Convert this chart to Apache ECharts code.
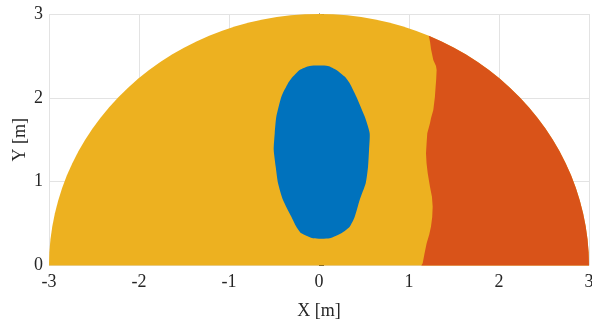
<!DOCTYPE html>
<html>
<head>
<meta charset="utf-8">
<script src="https://cdn.jsdelivr.net/npm/echarts@6/dist/echarts.min.js"></script>
<style>
  html, body { margin: 0; padding: 0; background: #fff; }
  #chart { width: 592px; height: 320px; }
</style>
</head>
<body>
<div id="chart"></div>
<script>
  // tick values
  var xTicks = [-3, -2, -1, 0, 1, 2, 3];
  var yTicks = [0, 1, 2, 3];

  // outer rim (semicircle r = 3), right to left
  var rimPoints = [
    [3, 0], [2.9959, 0.1570], [2.9836, 0.3136], [2.9631, 0.4693], [2.9344, 0.6237],
    [2.8978, 0.7765], [2.8532, 0.9271], [2.8007, 1.0751], [2.7406, 1.2202], [2.6730, 1.3620],
    [2.5981, 1.5], [2.5160, 1.6339], [2.4271, 1.7634], [2.3314, 1.8880], [2.2294, 2.0074],
    [2.1213, 2.1213], [2.0074, 2.2294], [1.8880, 2.3314], [1.7634, 2.4271], [1.6339, 2.5160],
    [1.5, 2.5981], [1.3620, 2.6730], [1.2202, 2.7406], [1.0751, 2.8007], [0.9271, 2.8532],
    [0.7765, 2.8978], [0.6237, 2.9344], [0.4693, 2.9631], [0.3136, 2.9836], [0.1570, 2.9959],
    [0, 3],
    [-0.1570, 2.9959], [-0.3136, 2.9836], [-0.4693, 2.9631], [-0.6237, 2.9344], [-0.7765, 2.8978],
    [-0.9271, 2.8532], [-1.0751, 2.8007], [-1.2202, 2.7406], [-1.3620, 2.6730], [-1.5, 2.5981],
    [-1.6339, 2.5160], [-1.7634, 2.4271], [-1.8880, 2.3314], [-2.0074, 2.2294], [-2.1213, 2.1213],
    [-2.2294, 2.0074], [-2.3314, 1.8880], [-2.4271, 1.7634], [-2.5160, 1.6339], [-2.5981, 1.5],
    [-2.6730, 1.3620], [-2.7406, 1.2202], [-2.8007, 1.0751], [-2.8532, 0.9271], [-2.8978, 0.7765],
    [-2.9344, 0.6237], [-2.9631, 0.4693], [-2.9836, 0.3136], [-2.9959, 0.1570], [-3, 0]
  ];

  // right region (red): rim part, then wavy front from top to bottom
  var frontPoints = [
    [3, 0], [2.9959, 0.1570], [2.9836, 0.3136], [2.9631, 0.4693], [2.9344, 0.6237],
    [2.8978, 0.7765], [2.8532, 0.9271], [2.8007, 1.0751], [2.7406, 1.2202], [2.6730, 1.3620],
    [2.5981, 1.5], [2.5160, 1.6339], [2.4271, 1.7634], [2.3314, 1.8880], [2.2294, 2.0074],
    [2.1213, 2.1213], [2.0074, 2.2294], [1.8880, 2.3314], [1.7634, 2.4271], [1.6339, 2.5160],
    [1.5, 2.5981], [1.3620, 2.6730], [1.2202, 2.7406],
    [1.235, 2.66], [1.245, 2.58], [1.270, 2.452], [1.300, 2.38], [1.307, 2.333], [1.302, 2.22],
    [1.295, 2.12], [1.288, 2.014], [1.270, 1.856], [1.245, 1.76], [1.233, 1.697], [1.203, 1.578],
    [1.195, 1.45], [1.189, 1.339], [1.195, 1.22], [1.208, 1.100], [1.233, 0.940], [1.255, 0.82],
    [1.263, 0.702], [1.258, 0.58], [1.244, 0.463], [1.225, 0.37], [1.196, 0.265], [1.172, 0.14],
    [1.152, 0.026], [1.137, 0]
  ];

  // inner blob (blue), clockwise from the top
  var blobPoints = [
    [-0.103, 2.381], [0.100, 2.381], [0.193, 2.333], [0.285, 2.253], [0.341, 2.174],
    [0.415, 2.014], [0.508, 1.776], [0.563, 1.578], [0.556, 1.378], [0.545, 1.179],
    [0.519, 0.981], [0.452, 0.782], [0.397, 0.582], [0.341, 0.463], [0.248, 0.384],
    [0.119, 0.325], [-0.066, 0.325], [-0.196, 0.384], [-0.252, 0.463], [-0.307, 0.582],
    [-0.400, 0.782], [-0.455, 0.981], [-0.481, 1.179], [-0.503, 1.378], [-0.492, 1.578],
    [-0.474, 1.776], [-0.418, 2.014], [-0.344, 2.174], [-0.289, 2.253], [-0.215, 2.333]
  ];

  var chart = echarts.init(document.getElementById('chart'));

  function regionSeries(name, points, color, z, smooth) {
    return {
      name: name,
      type: 'custom',
      z: z,
      silent: true,
      data: [[0, 0]],
      renderItem: function (params, api) {
        var pts = points.map(function (p) { return api.coord(p); });
        return {
          type: 'polygon',
          shape: { points: pts, smooth: smooth || 0 },
          style: { fill: color, stroke: null }
        };
      }
    };
  }

  var serif = 'Liberation Serif, Times New Roman, serif';
  var textStyle = { fontFamily: serif, color: '#262626', fontSize: 18 };

  var option = {
    animation: false,
    grid: { left: 49, right: 3, top: 14, bottom: 54.5, outerBoundsMode: 'none' },
    xAxis: {
      type: 'value',
      min: xTicks[0],
      max: xTicks[xTicks.length - 1],
      interval: 1,
      name: 'X [m]',
      nameLocation: 'middle',
      nameGap: 37,
      nameMoveOverlap: false,
      nameTextStyle: textStyle,
      axisLine: { show: false },
      axisTick: { show: false },
      axisLabel: { margin: 8, fontFamily: serif, color: '#262626', fontSize: 18 },
      splitLine: { show: true, lineStyle: { color: '#e3e3e3', width: 1 } }
    },
    yAxis: {
      type: 'value',
      min: yTicks[0],
      max: yTicks[yTicks.length - 1],
      interval: 1,
      name: 'Y [m]',
      nameLocation: 'middle',
      nameGap: 20,
      nameMoveOverlap: false,
      nameTextStyle: textStyle,
      axisLine: { show: true, lineStyle: { color: '#262626', width: 1 } },
      axisTick: { show: true, inside: true, length: 5, lineStyle: { color: '#262626' } },
      axisLabel: { margin: 6, fontFamily: serif, color: '#262626', fontSize: 18 },
      splitLine: { show: true, lineStyle: { color: '#e3e3e3', width: 1 } }
    },
    series: [
      regionSeries('rim', rimPoints, '#EDB120', 2),
      regionSeries('front', frontPoints, '#D95319', 3),
      regionSeries('blob', blobPoints, '#0072BD', 4, 0.2)
    ]
  };

  chart.setOption(option);
</script>
</body>
</html>
